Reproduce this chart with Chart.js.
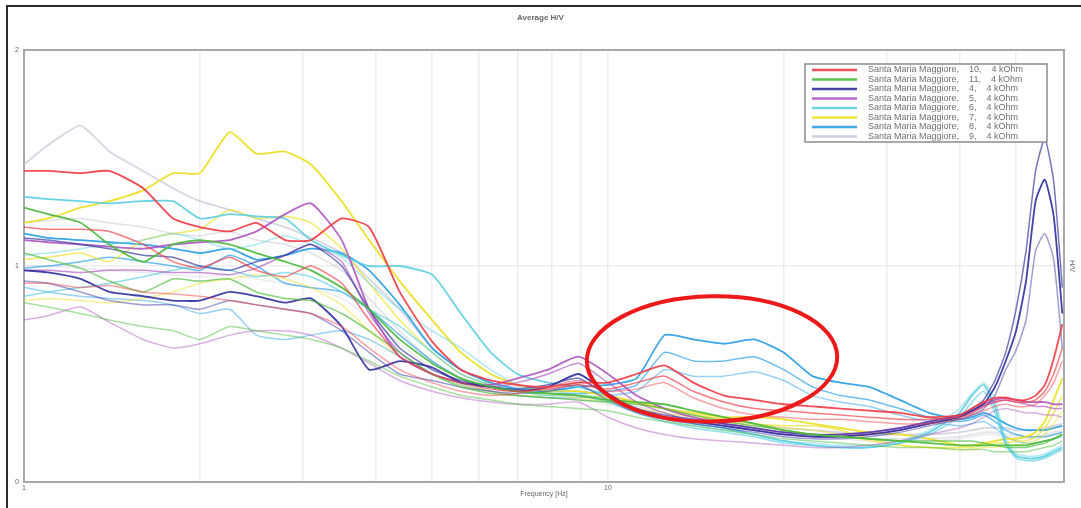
<!DOCTYPE html>
<html>
<head>
<meta charset="utf-8">
<script src="https://cdn.jsdelivr.net/npm/chart.js@4.4.1/dist/chart.umd.min.js"></script>
<style>
html,body{margin:0;padding:0;background:#fff;}
#wrap{width:1081px;height:508px;position:relative;overflow:hidden;}
canvas{display:block;}
</style>
</head>
<body>
<div id="wrap"><canvas id="c" width="1081" height="508"></canvas></div>
<script>
// Frequency samples (Hz)
const freqs = [1, 1.1, 1.25, 1.4, 1.6, 1.8, 2, 2.25, 2.5, 2.8, 3.1, 3.5, 3.9, 4.4, 5, 5.6, 6.3, 7, 7.9, 8.9, 10, 11.2, 12.5, 14, 15.8, 17.8, 20, 22.4, 25, 28, 31.6, 35.5, 40, 42, 44, 46, 48, 50, 52, 54, 56, 58, 60];

// Site 10
const s10a = [1.44,1.44,1.43,1.44,1.36,1.22,1.18,1.16,1.20,1.12,1.12,1.22,1.18,0.88,0.65,0.52,0.47,0.45,0.44,0.46,0.46,0.50,0.54,0.46,0.40,0.38,0.36,0.35,0.34,0.33,0.32,0.30,0.31,0.34,0.37,0.39,0.39,0.38,0.38,0.40,0.45,0.57,0.73];
const s10b = [1.18,1.17,1.17,1.16,1.10,1.02,0.99,1.04,0.98,0.95,1.00,0.92,0.75,0.58,0.50,0.46,0.43,0.42,0.43,0.45,0.43,0.46,0.49,0.42,0.37,0.34,0.33,0.32,0.31,0.30,0.29,0.29,0.30,0.32,0.35,0.37,0.38,0.37,0.37,0.38,0.42,0.50,0.62];
const s10c = [0.92,0.92,0.90,0.91,0.88,0.87,0.86,0.84,0.82,0.80,0.78,0.72,0.62,0.52,0.46,0.42,0.40,0.41,0.44,0.47,0.42,0.43,0.46,0.39,0.34,0.31,0.30,0.29,0.29,0.28,0.27,0.27,0.29,0.31,0.33,0.35,0.36,0.35,0.35,0.36,0.40,0.46,0.56];
// Site 11
const s11a = [1.27,1.24,1.20,1.10,1.02,1.10,1.12,1.10,1.06,1.02,0.98,0.90,0.80,0.66,0.55,0.48,0.44,0.42,0.41,0.40,0.38,0.37,0.36,0.33,0.30,0.27,0.24,0.22,0.21,0.20,0.19,0.18,0.17,0.17,0.17,0.17,0.17,0.17,0.17,0.18,0.19,0.20,0.22];
const s11b = [1.06,1.03,0.99,0.93,0.88,0.94,0.93,0.94,0.88,0.85,0.84,0.78,0.70,0.60,0.50,0.44,0.41,0.40,0.39,0.38,0.37,0.36,0.34,0.31,0.28,0.26,0.24,0.22,0.21,0.20,0.19,0.19,0.19,0.19,0.18,0.17,0.16,0.16,0.16,0.17,0.18,0.20,0.22];
const s11c = [0.83,0.81,0.78,0.75,0.72,0.70,0.66,0.72,0.70,0.68,0.66,0.62,0.56,0.49,0.44,0.40,0.38,0.36,0.35,0.34,0.33,0.30,0.28,0.26,0.24,0.22,0.20,0.19,0.18,0.17,0.16,0.16,0.15,0.15,0.15,0.14,0.14,0.14,0.14,0.15,0.16,0.17,0.19];
// Site 4
const s4a = [0.98,0.97,0.94,0.88,0.86,0.84,0.84,0.88,0.86,0.83,0.85,0.72,0.52,0.56,0.53,0.46,0.44,0.42,0.44,0.50,0.41,0.33,0.30,0.28,0.26,0.24,0.22,0.21,0.21,0.22,0.24,0.27,0.30,0.33,0.36,0.44,0.56,0.70,0.93,1.30,1.40,1.23,0.78];
const s4b = [1.13,1.12,1.10,1.08,1.05,1.04,1.00,0.98,1.02,1.05,1.10,1.00,0.80,0.62,0.52,0.47,0.44,0.43,0.45,0.48,0.40,0.34,0.31,0.29,0.27,0.25,0.23,0.22,0.22,0.23,0.25,0.28,0.31,0.34,0.38,0.47,0.60,0.80,1.07,1.44,1.59,1.39,0.90];
const s4c = [0.93,0.92,0.88,0.84,0.82,0.82,0.80,0.84,0.82,0.80,0.78,0.70,0.60,0.50,0.47,0.44,0.42,0.41,0.42,0.45,0.38,0.32,0.29,0.27,0.25,0.23,0.21,0.20,0.20,0.21,0.23,0.26,0.29,0.31,0.34,0.40,0.52,0.61,0.75,1.07,1.15,1.03,0.62];
// Site 5
const s5a = [1.12,1.11,1.10,1.09,1.08,1.10,1.11,1.12,1.16,1.24,1.29,1.12,0.80,0.58,0.50,0.46,0.45,0.48,0.52,0.58,0.50,0.40,0.34,0.30,0.27,0.25,0.23,0.22,0.22,0.23,0.25,0.28,0.31,0.33,0.36,0.38,0.39,0.38,0.37,0.37,0.37,0.36,0.36];
const s5b = [0.98,0.98,0.97,0.98,0.98,0.97,0.97,0.96,0.99,1.05,1.10,1.02,0.78,0.60,0.50,0.46,0.44,0.46,0.50,0.55,0.46,0.37,0.32,0.28,0.26,0.24,0.22,0.21,0.21,0.22,0.24,0.27,0.30,0.32,0.35,0.37,0.38,0.37,0.36,0.35,0.35,0.34,0.34];
const s5c = [0.75,0.77,0.81,0.74,0.66,0.62,0.64,0.68,0.70,0.70,0.68,0.62,0.55,0.47,0.42,0.39,0.37,0.36,0.36,0.37,0.30,0.25,0.22,0.20,0.19,0.18,0.17,0.16,0.16,0.17,0.19,0.22,0.25,0.27,0.30,0.33,0.34,0.33,0.32,0.32,0.31,0.31,0.30];
// Site 6
const s6a = [1.32,1.31,1.30,1.29,1.30,1.30,1.22,1.24,1.23,1.22,1.12,1.05,1.00,1.00,0.96,0.78,0.60,0.50,0.46,0.44,0.40,0.34,0.30,0.27,0.25,0.22,0.19,0.17,0.16,0.16,0.18,0.23,0.32,0.40,0.45,0.35,0.18,0.12,0.11,0.11,0.12,0.14,0.16];
const s6b = [0.86,0.88,0.90,0.92,0.95,0.98,1.00,0.98,0.95,0.97,0.95,0.88,0.80,0.72,0.60,0.50,0.45,0.42,0.40,0.40,0.37,0.32,0.28,0.25,0.23,0.21,0.18,0.17,0.16,0.16,0.18,0.22,0.30,0.37,0.42,0.32,0.17,0.11,0.10,0.10,0.11,0.13,0.15];
const s6c = [1.05,1.06,1.08,1.10,1.12,1.15,1.12,1.08,1.10,1.14,1.10,1.04,0.92,0.80,0.70,0.62,0.52,0.45,0.42,0.41,0.38,0.33,0.29,0.26,0.24,0.22,0.19,0.18,0.17,0.17,0.19,0.24,0.34,0.41,0.46,0.38,0.20,0.13,0.12,0.12,0.13,0.15,0.17];
// Site 7
const s7a = [1.20,1.22,1.27,1.30,1.35,1.43,1.43,1.62,1.52,1.53,1.47,1.30,1.12,0.93,0.75,0.60,0.50,0.45,0.42,0.42,0.40,0.37,0.34,0.32,0.30,0.30,0.29,0.27,0.25,0.23,0.22,0.20,0.17,0.17,0.18,0.19,0.20,0.20,0.21,0.23,0.28,0.38,0.48];
const s7b = [1.03,1.04,1.06,1.02,1.12,1.15,1.17,1.26,1.22,1.23,1.20,1.08,0.92,0.75,0.60,0.50,0.45,0.42,0.41,0.40,0.39,0.36,0.34,0.31,0.29,0.27,0.26,0.26,0.24,0.20,0.17,0.16,0.16,0.16,0.17,0.18,0.18,0.19,0.19,0.21,0.25,0.32,0.40];
const s7c = [0.84,0.85,0.84,0.83,0.85,0.88,0.92,0.94,0.96,0.94,0.90,0.82,0.70,0.58,0.50,0.45,0.42,0.40,0.40,0.39,0.37,0.34,0.32,0.30,0.28,0.26,0.25,0.24,0.22,0.19,0.17,0.16,0.15,0.15,0.16,0.16,0.17,0.17,0.18,0.19,0.22,0.27,0.33];
// Site 8
const s8a = [1.15,1.13,1.12,1.11,1.10,1.08,1.06,1.08,1.03,1.05,1.08,1.06,0.98,0.82,0.62,0.52,0.46,0.43,0.42,0.44,0.45,0.48,0.68,0.66,0.64,0.66,0.60,0.49,0.46,0.44,0.38,0.32,0.29,0.30,0.32,0.30,0.27,0.25,0.24,0.24,0.24,0.25,0.26];
const s8b = [0.99,1.00,1.02,1.04,1.02,1.00,0.98,1.05,1.00,0.92,0.90,0.88,0.80,0.68,0.56,0.48,0.44,0.42,0.41,0.41,0.42,0.45,0.60,0.56,0.56,0.58,0.52,0.44,0.40,0.38,0.34,0.30,0.28,0.29,0.31,0.28,0.24,0.22,0.21,0.21,0.21,0.22,0.23];
const s8c = [0.90,0.88,0.86,0.85,0.84,0.82,0.78,0.80,0.68,0.66,0.68,0.70,0.66,0.58,0.50,0.45,0.42,0.40,0.39,0.39,0.40,0.42,0.52,0.49,0.49,0.51,0.47,0.40,0.37,0.35,0.31,0.28,0.26,0.27,0.28,0.25,0.21,0.19,0.18,0.18,0.19,0.20,0.21];
// Site 9
const s9a = [1.47,1.56,1.65,1.53,1.44,1.36,1.30,1.26,1.22,1.18,1.13,1.06,0.94,0.80,0.62,0.52,0.46,0.44,0.43,0.42,0.40,0.37,0.34,0.31,0.29,0.27,0.25,0.24,0.23,0.22,0.22,0.22,0.23,0.24,0.25,0.25,0.25,0.24,0.24,0.24,0.25,0.26,0.27];
const s9b = [1.20,1.21,1.22,1.20,1.18,1.15,1.14,1.16,1.12,1.10,1.06,0.98,0.85,0.70,0.56,0.48,0.44,0.42,0.41,0.40,0.38,0.35,0.32,0.29,0.27,0.25,0.23,0.22,0.21,0.20,0.20,0.20,0.21,0.22,0.23,0.23,0.22,0.22,0.21,0.21,0.22,0.23,0.24];
const s9c = [1.00,1.00,0.99,0.98,0.97,0.96,0.95,0.96,0.94,0.92,0.90,0.85,0.76,0.64,0.53,0.46,0.42,0.40,0.39,0.38,0.36,0.33,0.30,0.28,0.26,0.24,0.22,0.21,0.20,0.19,0.19,0.19,0.20,0.21,0.22,0.22,0.21,0.21,0.20,0.20,0.21,0.22,0.23];

const siteLabels = [
  'Santa Maria Maggiore,    10,    4 kOhm',
  'Santa Maria Maggiore,    11,    4 kOhm',
  'Santa Maria Maggiore,    4,    4 kOhm',
  'Santa Maria Maggiore,    5,    4 kOhm',
  'Santa Maria Maggiore,    6,    4 kOhm',
  'Santa Maria Maggiore,    7,    4 kOhm',
  'Santa Maria Maggiore,    8,    4 kOhm',
  'Santa Maria Maggiore,    9,    4 kOhm'
];
const siteSeries = [
  [s10a, s10b, s10c],
  [s11a, s11b, s11c],
  [s4a, s4b, s4c],
  [s5a, s5b, s5c],
  [s6a, s6b, s6c],
  [s7a, s7b, s7c],
  [s8a, s8b, s8c],
  [s9a, s9b, s9c]
];
// Hand-drawn highlight region (data coordinates)
const circledFreq = [9.2, 24.7];
const circledHV = [0.28, 0.86];

// Styles
const siteColors = ['#f03c46','#4cbb3c','#3232a0','#b05ac0','#5ccfe2','#ece020','#2a9fe4','#c8c8d8'];
const lineAlphas = [0.92, 0.68, 0.48];

function rgba(hex, a){
  const n = parseInt(hex.slice(1),16);
  return 'rgba(' + ((n>>16)&255) + ',' + ((n>>8)&255) + ',' + (n&255) + ',' + a + ')';
}

const datasets = [];
siteSeries.forEach((group, gi) => {
  group.forEach((vals, li) => {
    const a = gi === 7 ? lineAlphas[li] * 0.8 : lineAlphas[li];
    datasets.push({
      label: siteLabels[gi],
      data: vals.map((v, i) => ({x: freqs[i], y: v})),
      borderColor: rgba(siteColors[gi], a),
      backgroundColor: rgba(siteColors[gi], a),
      borderWidth: li === 0 ? 1.8 : 1.5,
      pointRadius: 0,
      tension: 0.18,
      fill: false
    });
  });
});

const FONT = 'Liberation Sans, Arial, sans-serif';

const framePlugin = {
  id: 'frame',
  beforeDatasetsDraw(chart){
    const {ctx, chartArea: a} = chart;
    ctx.save();
    ctx.strokeStyle = '#a8a8a8';
    ctx.lineWidth = 2;
    ctx.beginPath();
    ctx.moveTo(a.left, a.top);
    ctx.lineTo(a.right, a.top);
    ctx.stroke();
    ctx.restore();
  },
  afterDraw(chart){
    const ctx = chart.ctx;
    ctx.save();
    ctx.strokeStyle = '#2b2b2b';
    ctx.lineWidth = 2;
    ctx.beginPath();
    ctx.moveTo(7, chart.height);
    ctx.lineTo(7, 6);
    ctx.lineTo(chart.width, 6);
    ctx.stroke();
    ctx.restore();
  }
};

const circlePlugin = {
  id: 'circled',
  afterDatasetsDraw(chart){
    const {ctx, scales: {x, y}} = chart;
    const x0 = x.getPixelForValue(circledFreq[0]);
    const x1 = x.getPixelForValue(circledFreq[1]);
    const y0 = y.getPixelForValue(circledHV[1]);
    const y1 = y.getPixelForValue(circledHV[0]);
    ctx.save();
    ctx.strokeStyle = '#ee1a1a';
    ctx.lineWidth = 4;
    ctx.beginPath();
    ctx.ellipse((x0+x1)/2, (y0+y1)/2, (x1-x0)/2, (y1-y0)/2, -0.02, 0, Math.PI*2);
    ctx.stroke();
    ctx.restore();
  }
};

const legendPlugin = {
  id: 'boxLegend',
  afterDraw(chart){
    const ctx = chart.ctx;
    const bx = 805, by = 64, bw = 242, bh = 78;
    ctx.save();
    ctx.fillStyle = '#ffffff';
    ctx.fillRect(bx, by, bw, bh);
    ctx.strokeStyle = '#8c8c8c';
    ctx.lineWidth = 1.5;
    ctx.strokeRect(bx, by, bw, bh);
    ctx.font = '9px ' + FONT;
    ctx.textBaseline = 'middle';
    ctx.textAlign = 'left';
    siteLabels.forEach((lab, i) => {
      const yy = by + 6 + i * 9.5;
      ctx.strokeStyle = rgba(siteColors[i], 0.9);
      ctx.lineWidth = 2.5;
      ctx.beginPath();
      ctx.moveTo(812, yy);
      ctx.lineTo(857, yy);
      ctx.stroke();
      ctx.fillStyle = '#707070';
      ctx.fillText(lab, 868, yy);
    });
    ctx.restore();
  }
};

const xTickValues = [1,2,3,4,5,6,7,8,9,10,20,30,40,50];
const xTickLabels = {1: '1', 10: '10'};

new Chart(document.getElementById('c'), {
  type: 'line',
  data: { datasets },
  plugins: [framePlugin, circlePlugin, legendPlugin],
  options: {
    responsive: false,
    animation: false,
    devicePixelRatio: 1,
    layout: { padding: 0 },
    plugins: {
      legend: { display: false },
      tooltip: { enabled: false },
      title: {
        display: true,
        text: 'Average H/V',
        color: '#666',
        font: { size: 8, family: FONT },
        padding: { top: 13, bottom: 27.4 }
      }
    },
    scales: {
      x: {
        type: 'logarithmic',
        min: 1,
        max: 60.4,
        afterBuildTicks(s){ s.ticks = xTickValues.map(v => ({value: v})); },
        afterFit(s){ s.height = 26; },
        ticks: {
          autoSkip: false,
          maxRotation: 0,
          padding: 2,
          color: '#666',
          font: { size: 7, family: FONT },
          callback: (v) => xTickLabels[v] || ''
        },
        grid: { color: 'rgba(210,210,210,0.38)', lineWidth: 1.5, drawTicks: false },
        border: { color: '#a8a8a8', width: 2 },
        title: {
          display: true,
          text: 'Frequency [Hz]',
          color: '#666',
          font: { size: 7, family: FONT },
          padding: { top: 0, bottom: 10 }
        }
      },
      y: {
        min: 0,
        max: 2,
        afterFit(s){ s.width = 24; },
        ticks: { stepSize: 1, padding: 5, color: '#666', font: { size: 7, family: FONT } },
        grid: { color: 'rgba(210,210,210,0.4)', lineWidth: 1.5, drawTicks: false },
        border: { color: '#a8a8a8', width: 2 }
      },
      y2: {
        position: 'right',
        min: 0,
        max: 2,
        afterFit(s){ s.width = 17; },
        ticks: { display: false },
        grid: { display: false, drawTicks: false },
        border: { color: '#a8a8a8', width: 2 },
        title: {
          display: true,
          text: 'H/V',
          color: '#666',
          font: { size: 7, family: FONT },
          padding: { top: 5, bottom: 0 }
        }
      }
    }
  }
});
</script>
</body>
</html>
